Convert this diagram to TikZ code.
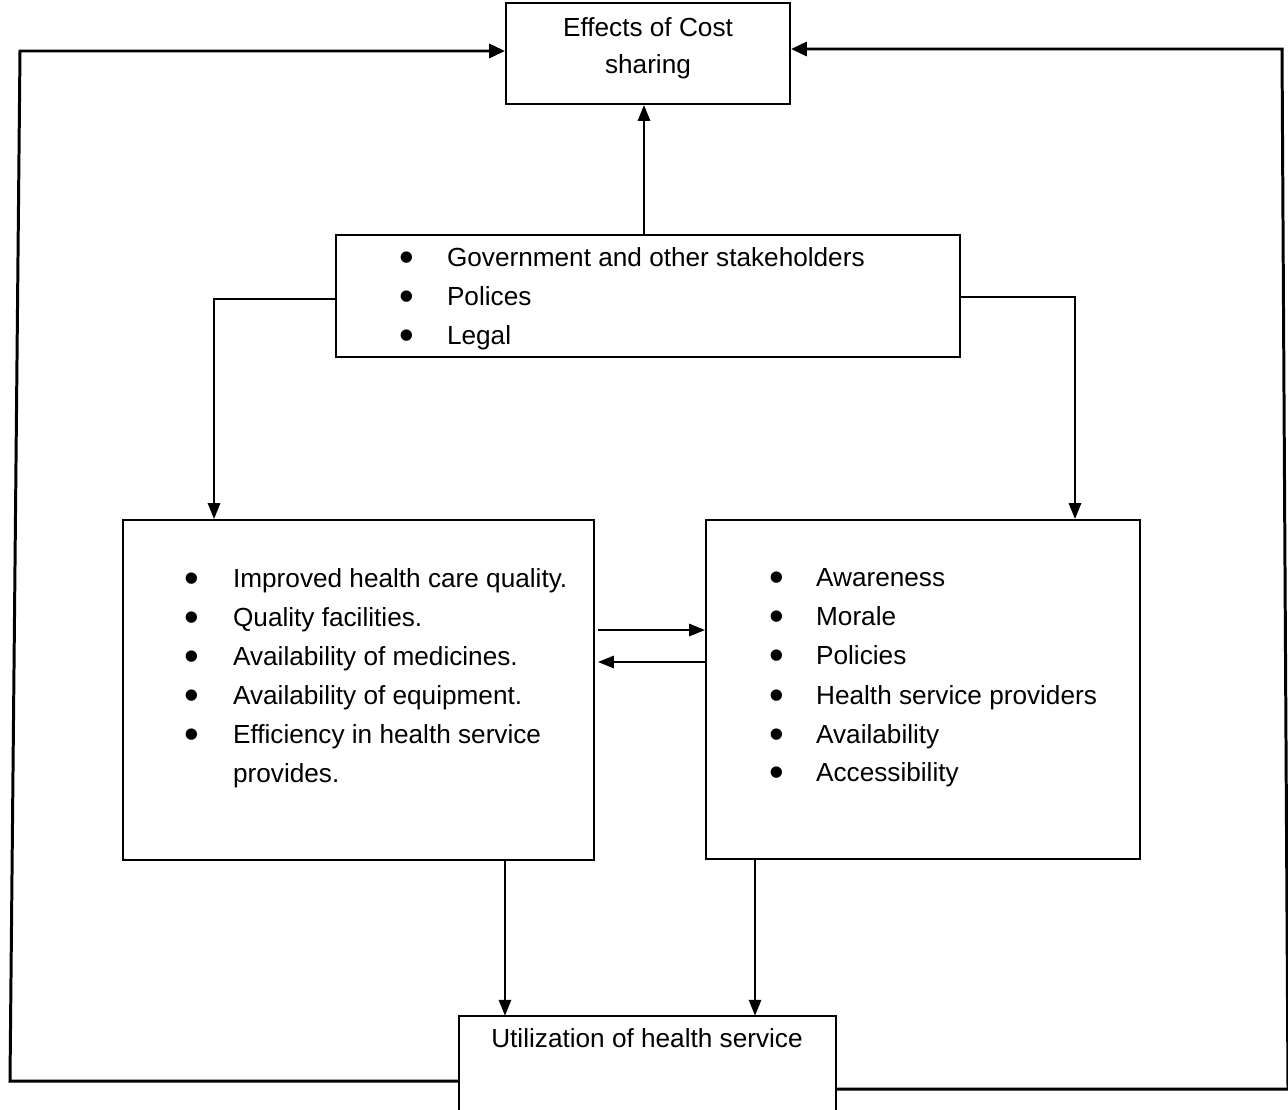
\documentclass[tikz,border=0pt]{standalone}
\usepackage{fontspec}
\usepackage{graphicx}
\setmainfont{Liberation Sans}
\usetikzlibrary{arrows.meta,calc}
\newcommand{\bl}[2]{\makebox[#1][l]{\hspace*{-1pt}\raisebox{-3.2pt}{\scalebox{1.6}{\textbullet}}}#2}
\begin{document}
\begin{tikzpicture}[x=0.02cm,y=-0.02cm,
  box/.style={draw,line width=1.2pt,rectangle,inner sep=0pt},
  txt/.style={inner sep=0pt,font=\fontsize{14.9}{21}\selectfont},
  li/.style={txt,anchor=base west},
  arr/.style={line width=1.1pt,-{Triangle[length=9pt,width=7pt]}},
  loopl/.style={line width=1.7pt,-{Triangle[length=9pt,width=8pt]}}]
\useasboundingbox (0,0) rectangle (1288,1109);
% boxes
\node[box,minimum width=5.68cm,minimum height=2.02cm] (top) at (648,53.5) {};
\node[txt,align=center] (topt) at (648,48.5) {Effects of Cost\\sharing};
\node[box,minimum width=12.48cm,minimum height=2.44cm] (gov) at (648,296) {};
\node[box,minimum width=9.42cm,minimum height=6.8cm] (lft) at (358.5,690) {};
\node[box,minimum width=8.68cm,minimum height=6.78cm] (rgt) at (923,689.5) {};
\node[minimum width=7.54cm,minimum height=2.08cm,inner sep=0pt] (bot) at (647.5,1068) {};
\draw[line width=1.2pt] (bot.south west) |- (bot.north east) -- (bot.south east);
\node[txt] (bott) at (647,1038) {Utilization of health service};
% gov list
\node[li] (g1) at (401,266) {\bl{26pt}{Government and other stakeholders}};
\node[li] (g2) at (401,305) {\bl{26pt}{Polices}};
\node[li] (g3) at (401,344) {\bl{26pt}{Legal}};
% left list
\node[li] (a1) at (186,587) {\bl{26.6pt}{Improved health care quality.}};
\node[li] (a2) at (186,626) {\bl{26.6pt}{Quality facilities.}};
\node[li] (a3) at (186,665) {\bl{26.6pt}{Availability of medicines.}};
\node[li] (a4) at (186,704) {\bl{26.6pt}{Availability of equipment.}};
\node[li] (a5) at (186,743) {\bl{26.6pt}{Efficiency in health service}};
\node[li] (a6) at (186,782) {\hspace*{26.6pt}provides.};
% right list
\node[li] (b1) at (771,586) {\bl{25.5pt}{Awareness}};
\node[li] (b2) at (771,625) {\bl{25.5pt}{Morale}};
\node[li] (b3) at (771,664) {\bl{25.5pt}{Policies}};
\node[li] (b4) at (771,704) {\bl{25.5pt}{Health service providers}};
\node[li] (b5) at (771,743) {\bl{25.5pt}{Availability}};
\node[li] (b6) at (771,781) {\bl{25.5pt}{Accessibility}};
% connectors
\draw[arr] ([xshift=-0.08cm]gov.north) -- ([xshift=-0.08cm]top.south);
\draw[arr] ([yshift=-0.06cm]gov.west) -| ([xshift=-2.89cm]lft.north);
\draw[arr] ([yshift=-0.02cm]gov.east) -| ([xshift=3.04cm]rgt.north);
\draw[arr] ([xshift=0.06cm,yshift=1.2cm]lft.east) -- ([yshift=1.2cm]lft.east -| rgt.west);
\draw[arr] ([yshift=0.55cm]rgt.west) -- ([xshift=0.06cm,yshift=0.55cm]rgt.west -| lft.east);
\draw[arr] ([xshift=2.93cm]lft.south) -- ([xshift=2.93cm]lft.south |- bot.north);
\draw[arr] ([xshift=-3.36cm]rgt.south) -- ([xshift=-3.36cm]rgt.south |- bot.north);
% outer loops
\coordinate (lb) at (10,1081);
\coordinate (lt) at (20,51);
\coordinate (rb) at (1288,1089);
\coordinate (rt) at (1282,49);
\draw[loopl] ([yshift=-0.26cm]bot.west) -- (lb) -- (lt) -- ([yshift=0.05cm]top.west);
\draw[loopl] ([yshift=-0.42cm]bot.east) -- (rb) -- (rt) -- ([yshift=0.09cm]top.east);
\end{tikzpicture}
\end{document}
